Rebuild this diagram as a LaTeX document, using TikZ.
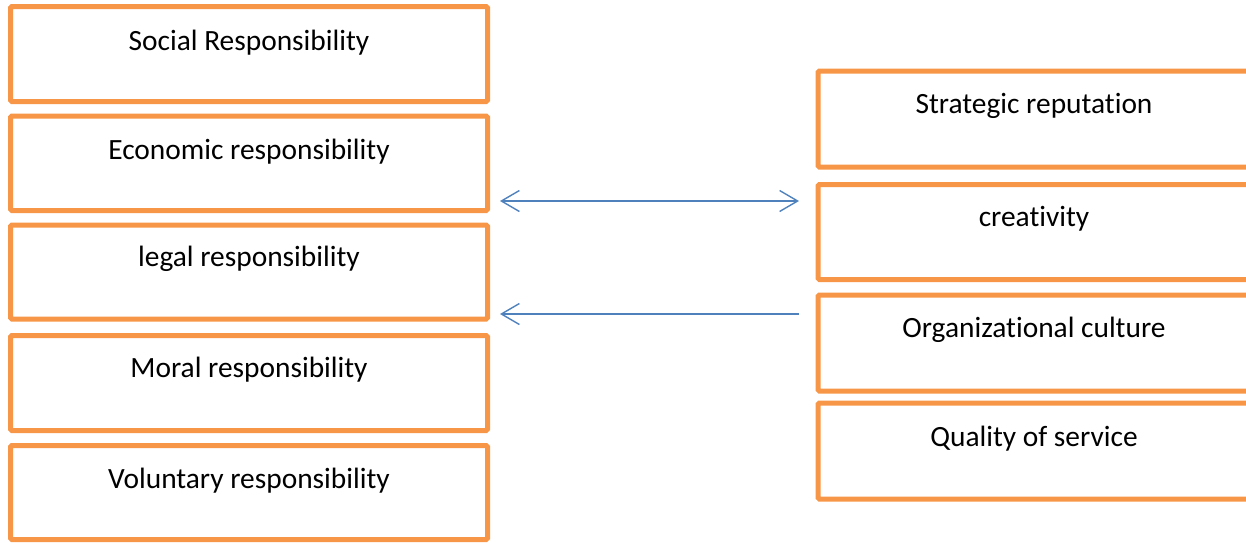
\documentclass[tikz,border=0pt]{standalone}
\usepackage{fontspec}
\setmainfont{Carlito}[RawFeature={-liga;-clig;-calt;-dlig;-rlig}]
\usetikzlibrary{arrows.meta}
\definecolor{boxorange}{HTML}{F79646}
\definecolor{arrblue}{HTML}{4F81BD}
\begin{document}
\begin{tikzpicture}[x=1pt,y=-1pt,
  box/.style={draw=boxorange,line width=5pt,rounded corners=1.5pt},
  lbl/.style={anchor=base,inner sep=0pt,font=\fontsize{29.4}{35}\selectfont},
  conn/.style={draw=arrblue,line width=1.4pt},
  barb/.tip={Straight Barb[length=18pt,width=21pt,line width=1.4pt]}]
\useasboundingbox (0,0) rectangle (1246,542);
% left column
\draw[box] (10.5,6.5) rectangle (487.5,101.5);
\node[lbl] (l1) at (249,50.5) {Social Responsibility};
\draw[box] (10.5,116) rectangle (487.5,210.5);
\node[lbl] (l2) at (249,159.5) {Economic responsibility};
\draw[box] (10.5,225) rectangle (487.5,319);
\node[lbl] (l3) at (249,266.5) {legal responsibility};
\draw[box] (10.5,335.5) rectangle (487.5,430.5);
\node[lbl] (l4) at (249,377.5) {Moral responsibility};
\draw[box] (10.5,445.5) rectangle (487.5,539.5);
\node[lbl] (l5) at (249,488.5) {Voluntary responsibility};
% right column
\draw[box] (818,71) rectangle (1250,167);
\node[lbl] (r1) at (1034,113) {Strategic reputation};
\draw[box] (818,184.5) rectangle (1250,279.5);
\node[lbl] (r2) at (1034,226) {creativity};
\draw[box] (818,295) rectangle (1250,391);
\node[lbl] (r3) at (1034,337) {Organizational culture};
\draw[box] (818,403) rectangle (1250,499);
\node[lbl] (r4) at (1034,446) {Quality of service};
% connectors
\coordinate (a1) at (500,201);
\coordinate (b1) at (799,201);
\coordinate (a2) at (500,314);
\coordinate (b2) at (799,314);
\draw[conn,{barb}-{barb}] (a1) -- (b1);
\draw[conn,-{barb}] (b2) -- (a2);
\end{tikzpicture}
\end{document}
